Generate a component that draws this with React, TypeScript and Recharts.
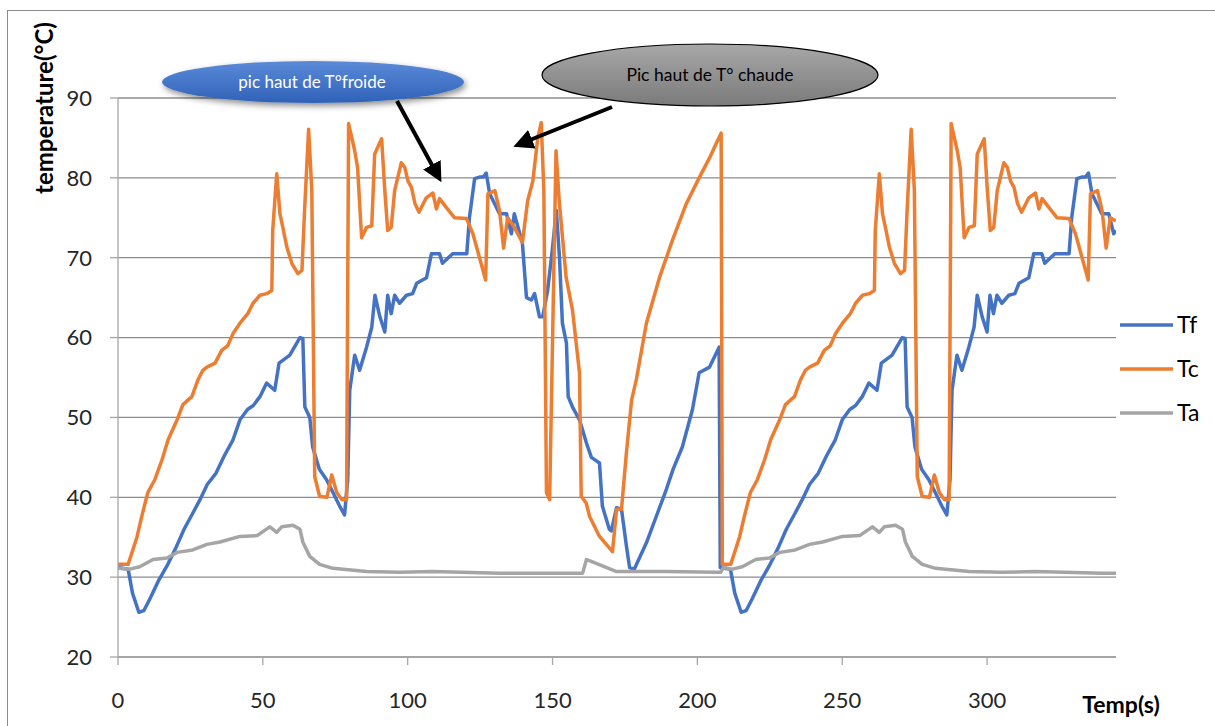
import { LineChart, Line, XAxis, YAxis, CartesianGrid } from "recharts";

// Tf : température froide
const tfTime = [
  0, 3.5, 5.0, 7.2, 8.9, 10.9, 13.9, 16.9, 19.9, 22.8, 25.8, 28.3, 30.8, 33.8, 36.7, 39.7, 42.1, 44.7, 46.7, 49.0,
  51.3, 54.1, 55.6, 59.3, 62.8, 63.8, 64.5, 66.2, 67.2, 69.5, 72.0, 74.2, 76.5, 78.2, 79.3, 80.0, 81.7, 83.4, 85.8,
  87.6, 88.7, 90.4, 92.1, 93.1, 94.3, 95.5, 97.2, 99.6, 101.7, 103.1, 106.5, 108.2, 111.0, 112.0, 115.5, 120.4,
  121.3, 123.1, 124.8, 126.1, 127.1, 128.3, 131.7, 134.1, 135.8, 136.8, 139.6, 141.0, 142.7, 143.8, 145.5, 146.6,
  148.3, 149.9, 151.3, 152.4, 153.4, 154.8, 155.4, 156.9, 159.3, 161.7, 163.4, 166.2, 167.2, 169.6, 170.3, 172.1,
  173.8, 175.5, 176.6, 178.2, 182.4, 185.7, 189.3, 191.6, 194.8, 198.3, 200.6, 204.2, 207.5,
  207.9, 211.4, 212.9, 215.1, 216.8, 218.8, 221.8, 224.8, 227.8, 230.7, 233.7, 236.2, 238.7, 241.7, 244.6, 247.6,
  250.0, 252.6, 254.6, 256.9, 259.2, 262.0, 263.5, 267.2, 270.7, 271.7, 272.4, 274.1, 275.1, 277.4, 279.9, 282.1,
  284.4, 286.1, 287.2, 287.9, 289.6, 291.3, 293.7, 295.5, 296.6, 298.3, 300.0, 301.0, 302.2, 303.4, 305.1, 307.5,
  309.6, 311.0, 314.4, 316.1, 318.9, 319.9, 323.4, 328.3, 329.2, 331.0, 332.7, 334.0, 335.0, 336.2, 339.6, 342.0,
  343.7, 344.5,
];
const tfTemp = [
  31.2, 31.0, 28, 25.6, 25.8, 27.2, 29.5, 31.4, 33.6, 36, 38, 39.7, 41.6, 43, 45.2, 47.2, 49.7, 51, 51.5, 52.6,
  54.3, 53.4, 56.8, 57.8, 60, 59.9, 51.3, 50, 46.3, 43.5, 42.2, 40.6, 38.9, 37.8, 42.2, 53.4, 57.8, 55.9, 58.8,
  61.3, 65.3, 62.6, 60.7, 65.3, 63, 65.3, 64.3, 65.3, 65.5, 66.8, 67.5, 70.5, 70.5, 69.3, 70.5, 70.5,
  75, 79.9, 80.1, 80.1, 80.6, 78, 75.5, 75.5, 73, 75.5, 71.8, 65, 64.7, 65.5, 62.6, 62.6,
  65.9, 70.9, 75.9, 70, 61.8, 59.3, 52.6, 51.3, 49.7, 46.8, 45, 44.3, 38.9, 36, 35.8, 38.7,
  38.5, 33.9, 31.2, 31, 34.3, 37.5, 41, 43.5, 46.3, 51, 55.6, 56.3, 58.8,
  31.2, 31.0, 28, 25.6, 25.8, 27.2, 29.5, 31.4, 33.6, 36, 38, 39.7, 41.6, 43, 45.2, 47.2,
  49.7, 51, 51.5, 52.6, 54.3, 53.4, 56.8, 57.8, 60, 59.9, 51.3, 50, 46.3, 43.5, 42.2, 40.6,
  38.9, 37.8, 42.2, 53.4, 57.8, 55.9, 58.8, 61.3, 65.3, 62.6, 60.7, 65.3, 63, 65.3, 64.3, 65.3,
  65.5, 66.8, 67.5, 70.5, 70.5, 69.3, 70.5, 70.5, 75, 79.9, 80.1, 80.1, 80.6, 78, 75.5, 75.5,
  73, 73.4,
];

// Tc : température chaude
const tcTime = [
  0, 3.5, 5.2, 6.6, 8.2, 10.3, 12.7, 15.2, 17.3, 20.4, 22.4, 25.5, 27.6, 29.3, 30.7, 33.5, 35.8, 37.9, 39.7, 42.1,
  44.8, 46.6, 49.0, 51.3, 53.1, 53.4, 54.8, 55.9, 56.9, 58.3, 60.0, 62.1, 63.5, 64.4, 65.8, 66.9, 67.9, 69.6, 72.1,
  73.8, 75.5, 77.3, 78.9, 79.6, 81.7, 82.7, 84.1, 85.8, 87.6, 88.6, 91.0, 92.1, 93.1, 94.3, 95.5, 97.8, 99.0,
  100.1, 101.3, 102.5, 103.9, 106.4, 108.7, 109.9, 111.0, 113.3, 116.2, 120.3, 122.5, 124.8, 126.9, 127.7, 130.1,
  131.7, 133.1, 134.5, 136.8, 139.6, 141.4, 143.2, 144.9, 146.1, 147.0, 147.9, 149.0, 151.2, 152.3, 154.7, 156.9,
  159.3, 159.9, 161.6, 162.8, 166.2, 170.7, 172.1, 173.8, 175.5, 177.3, 178.9, 182.4, 186.9, 191.4, 196.2, 200.6,
  204.2, 206.5, 208.2,
  208.6, 211.5, 213.2, 214.6, 216.2, 218.3, 220.7, 223.2, 225.3, 228.4, 230.4, 233.5, 235.6, 237.3, 238.7, 241.5,
  243.8, 245.9, 247.7, 250.1, 252.8, 254.6, 257.0, 259.3, 261.1, 261.4, 262.8, 263.9, 264.9, 266.3, 268.0, 270.1,
  271.5, 272.4, 273.8, 274.9, 275.9, 277.6, 280.1, 281.8, 283.5, 285.3, 286.9, 287.6, 289.7, 290.7, 292.1, 293.8,
  295.6, 296.6, 299.0, 300.1, 301.1, 302.3, 303.5, 305.8, 307.0, 308.1, 309.3, 310.5, 311.9, 314.4, 316.7, 317.9,
  319.0, 321.3, 324.2, 328.3, 330.5, 332.8, 334.9, 335.7, 338.1, 339.7, 341.1, 342.5, 344.5,
];
const tcTemp = [
  31.6, 31.6, 33.5, 35.1, 37.6, 40.6, 42.2, 44.7, 47.2, 49.7, 51.6, 52.6, 54.7, 55.9, 56.3, 56.8, 58.4, 59, 60.5, 61.8,
  63, 64.3, 65.3, 65.5, 65.9, 73.4, 80.5, 75.5, 73.8, 71.3, 69.3, 68, 68.4, 75.9, 86.1, 78.4, 42.6, 40.1, 40,
  42.8, 40.6, 39.7, 39.7, 86.8, 83.4, 81.3, 72.5, 73.8, 74, 83, 84.9, 78.4, 73.4, 73.8, 78.4, 81.9, 81.3,
  79.6, 78.8, 76.8, 75.7, 77.5, 78.1, 76.1, 77.4, 76.3, 75, 74.9, 73, 70, 67.2, 78, 78.4,
  75.9, 71.2, 75, 73.8, 71.9, 77.1, 79.6, 85, 86.9, 78.4, 40.6, 39.7, 83.4, 77.1, 67.5, 63.4,
  55.6, 40.1, 39.3, 37.6, 35.1, 33.2, 38.5, 38.5, 45.6, 52.2, 54.7, 61.8, 67.5, 72.2, 76.8, 80,
  82.5, 84.3, 85.6,
  31.6, 31.6, 33.5, 35.1, 37.6, 40.6, 42.2, 44.7, 47.2, 49.7, 51.6, 52.6, 54.7, 55.9, 56.3, 56.8,
  58.4, 59, 60.5, 61.8, 63, 64.3, 65.3, 65.5, 65.9, 73.4, 80.5, 75.5, 73.8, 71.3, 69.3, 68,
  68.4, 75.9, 86.1, 78.4, 42.6, 40.1, 40, 42.8, 40.6, 39.7, 39.7, 86.8, 83.4, 81.3, 72.5, 73.8,
  74, 83, 84.9, 78.4, 73.4, 73.8, 78.4, 81.9, 81.3, 79.6, 78.8, 76.8, 75.7, 77.5, 78.1, 76.1,
  77.4, 76.3, 75, 74.9, 73, 70, 67.2, 78, 78.4, 75.9, 71.2, 75, 74.6,
];

// Ta : température ambiante
const taTime = [
  0, 4.1, 7.5, 12.1, 16.9, 20.4, 25.8, 30.7, 35.2, 42.1, 48.0, 52.4, 54.8, 56.5, 60.4, 62.8, 63.8, 66.2, 69.6, 74.2,
  85.8, 97.2, 108.6, 131.7, 160.4, 161.7, 163.8, 172.1, 189.3, 206.5,
  208.0, 209.0, 212.1, 215.5, 220.1, 224.9, 228.4, 233.8, 238.7, 243.2, 250.1, 256.0, 260.4, 262.8, 264.5, 268.4,
  270.8, 271.8, 274.2, 277.6, 282.2, 293.8, 305.2, 316.6, 339.7, 344.5,
];
const taTemp = [
  31.1, 31.0, 31.3, 32.2, 32.4, 33.1, 33.4, 34.1, 34.4, 35.1, 35.2, 36.3, 35.6, 36.3, 36.5, 36, 34.4, 32.6, 31.6, 31.1,
  30.7, 30.6, 30.7, 30.5, 30.5, 32.2, 31.9, 30.7, 30.7, 30.6,
  30.6, 31.2, 31.0, 31.3, 32.2, 32.4, 33.1, 33.4, 34.1, 34.4, 35.1, 35.2, 36.3, 35.6, 36.3, 36.5,
  36, 34.4, 32.6, 31.6, 31.1, 30.7, 30.6, 30.7, 30.5, 30.5,
];

const xTicks = [0, 50, 100, 150, 200, 250, 300];
const yTicks = [20, 30, 40, 50, 60, 70, 80, 90];

const toPoints = (times: number[], temps: number[]) =>
  times.map((t, i) => ({ t, v: temps[i] }));

const series = [
  { name: "Tf", color: "#4472C4", data: toPoints(tfTime, tfTemp) },
  { name: "Tc", color: "#ED7D31", data: toPoints(tcTime, tcTemp) },
  { name: "Ta", color: "#A5A5A5", data: toPoints(taTime, taTemp) },
];

const font = "Lato, 'Open Sans', sans-serif";
const tickStyle = { fontSize: 22, fill: "#262626", fontFamily: font };

export default function App() {
  return (
    <div style={{ position: "absolute", left: 0, top: 0, width: 1215, height: 726, background: "#fff" }}>
      <div
        style={{
          position: "absolute",
          left: 7,
          top: 10,
          width: 1220,
          height: 730,
          border: "1px solid #8c8c8c",
        }}
      />
      <div style={{ position: "absolute", left: 0, top: 0 }}>
        <LineChart width={1215} height={726} margin={{ top: 98, right: 99, bottom: 39, left: 0 }}>
          <CartesianGrid horizontal vertical={false} stroke="#8c8c8c" strokeWidth={1.3} />
          <XAxis
            dataKey="t"
            type="number"
            domain={[0, 344.5]}
            ticks={xTicks}
            allowDataOverflow
            height={30}
            tickSize={8}
            tickMargin={27}
            tick={tickStyle}
            stroke="#a6a6a6"
            strokeWidth={1.3}
          />
          <YAxis
            type="number"
            domain={[20, 90]}
            ticks={yTicks}
            allowDataOverflow
            width={118}
            tickSize={8}
            tickMargin={18}
            tick={tickStyle}
            stroke="#a6a6a6"
            strokeWidth={1.3}
          />
          {series.map((s) => (
            <Line
              key={s.name}
              data={s.data}
              dataKey="v"
              name={s.name}
              type="linear"
              stroke={s.color}
              strokeWidth={3.5}
              strokeLinejoin="round"
              dot={false}
              activeDot={false}
              isAnimationActive={false}
            />
          ))}
        </LineChart>
      </div>
      <svg
        width={1215}
        height={726}
        style={{ position: "absolute", left: 0, top: 0, pointerEvents: "none" }}
      >
        <defs>
          <linearGradient id="blueFill" x1="0" y1="0" x2="0" y2="1">
            <stop offset="0%" stopColor="#5b8ad8" />
            <stop offset="100%" stopColor="#2f62b8" />
          </linearGradient>
          <linearGradient id="grayFill" x1="0" y1="0" x2="0" y2="1">
            <stop offset="0%" stopColor="#a8a8a8" />
            <stop offset="100%" stopColor="#7a7a7a" />
          </linearGradient>
          <filter id="shadow" x="-20%" y="-50%" width="140%" height="200%">
            <feDropShadow dx="2" dy="3" stdDeviation="3" floodColor="#000" floodOpacity="0.45" />
          </filter>
          <marker id="head" markerWidth="5" markerHeight="5" refX="3.2" refY="2.5" orient="auto">
            <path d="M0,0 L5,2.5 L0,5 Z" fill="#000" />
          </marker>
        </defs>

        <text
          transform="translate(53,108) rotate(-90)"
          textAnchor="middle"
          fontFamily={font}
          fontWeight="bold"
          fontSize={24}
          fill="#000"
        >
          temperature(°C)
        </text>
        <text x={1121} y={713} textAnchor="middle" fontFamily={font} fontWeight="bold" fontSize={23} fill="#000">
          Temp(s)
        </text>

        {series.map((s, i) => (
          <g key={s.name}>
            <line x1={1120} x2={1173} y1={325 + i * 44} y2={325 + i * 44} stroke={s.color} strokeWidth={3.5} />
            <text x={1177} y={333 + i * 44} fontFamily={font} fontSize={23} fill="#000">
              {s.name}
            </text>
          </g>
        ))}

        <ellipse cx={313} cy={82} rx={151} ry={21} fill="url(#blueFill)" filter="url(#shadow)" />
        <text x={312} y={88} textAnchor="middle" fontFamily={font} fontSize={17} fill="#fff">
          pic haut de T°froide
        </text>
        <line x1={397} y1={101} x2={438} y2={176} stroke="#000" strokeWidth={4} markerEnd="url(#head)" />

        <ellipse cx={710} cy={75} rx={168} ry={31} fill="url(#grayFill)" stroke="#000" strokeWidth={1.2} />
        <text x={710} y={81} textAnchor="middle" fontFamily={font} fontSize={17.5} fill="#000">
          Pic haut de T° chaude
        </text>
        <line x1={612} y1={107} x2={520} y2={144} stroke="#000" strokeWidth={4} markerEnd="url(#head)" />
      </svg>
    </div>
  );
}
